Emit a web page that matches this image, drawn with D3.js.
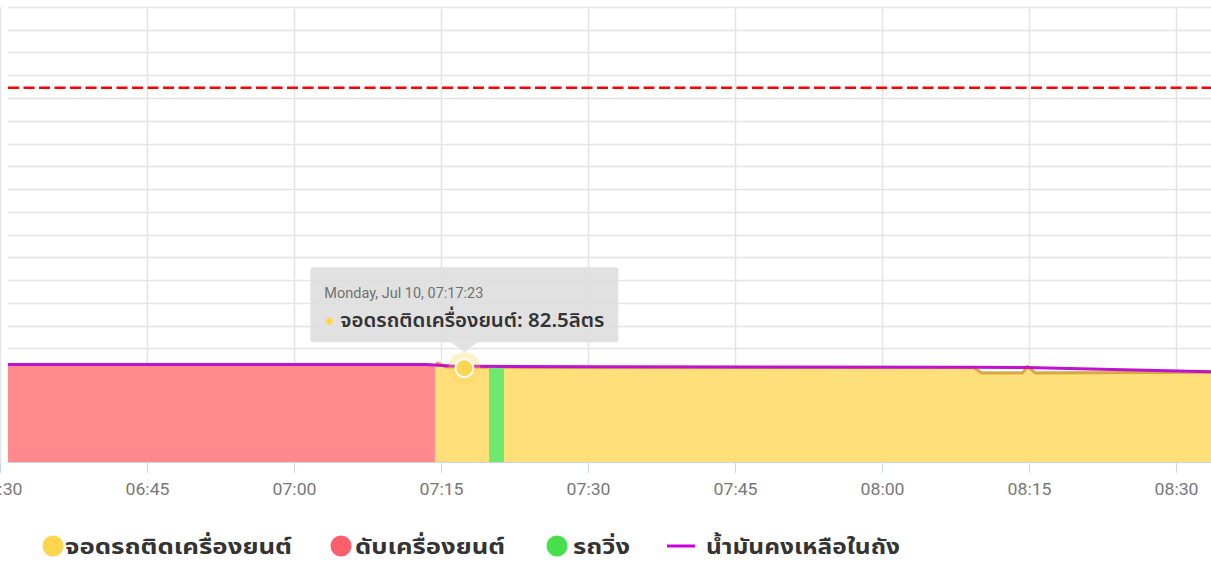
<!DOCTYPE html>
<html>
<head>
<meta charset="utf-8">
<script src="https://cdn.jsdelivr.net/npm/d3@7"></script>
<style>
	body { margin: 0; background: #fff; overflow: hidden; }
	svg { display: block; }
</style>
</head>
<body>
<div id="chart"></div>
<script>
const day = '2023-07-10';

// Data (litres)
const fuelTimes = ['06:30:49', '07:13:30', '07:16:00', '07:30:00', '08:09:00', '08:14:40', '08:33:34'];
const fuelValues = [85.8, 85.8, 84.3, 83.7, 83.2, 83.0, 79.4];

const offTimes = ['06:30:49', '07:14:23'];
const offValues = [84.6, 84.6];

const idleTimes = ['07:14:23', '07:14:40', '07:15:30', '07:19:54', '07:19:55', '07:21:26', '08:09:20', '08:10:10', '08:14:20', '08:14:50', '08:15:40', '08:33:34'];
const idleValues = [84.6, 87.0, 83.6, 83.4, null, 83.3, 83.0, 78.2, 78.2, 84.0, 78.2, 78.8];

const runTimes = ['07:19:54', '07:21:26'];
const runValues = [83.4, 83.3];

const tankLimit = 329;
const tickLabels = ['06:30', '06:45', '07:00', '07:15', '07:30', '07:45', '08:00', '08:15', '08:30'];
const legendNames = ['จอดรถติดเครื่องยนต์', 'ดับเครื่องยนต์', 'รถวิ่ง', 'น้ำมันคงเหลือในถัง'];
const legendColors = ['#ffd54f', '#ff5f6b', '#45e04a', '#cc00dd'];

const tooltipTime = '07:17:23';
const tooltipValue = 82.5;
const tooltipDate = 'Monday, Jul 10, 07:17:23';
const tooltipName = 'จอดรถติดเครื่องยนต์';

const parse = d3.timeParse('%Y-%m-%d %H:%M:%S');
const t = s => parse(`${day} ${s.length === 5 ? s + ':00' : s}`);
const zip = (ts, vs) => ts.map((s, i) => ({ t: t(s), v: vs[i] }));

const W = 1211, H = 562;
const thai = '"Noto Sans Thai", "Noto Sans", "DejaVu Sans", sans-serif';
const tickFont = 'Roboto, "Noto Sans", sans-serif';

const svg = d3.select('#chart').append('svg').attr('width', W).attr('height', H);

const x = d3.scaleTime().domain([t('06:30:49'), t('08:33:34')]).range([8, 1211]);
const y = d3.scaleLinear().domain([0, 400]).range([462, 7]);

// Grid
svg.append('g').selectAll('line')
	.data(d3.range(20, 401, 20))
	.enter().append('line')
	.attr('x1', 8).attr('x2', W)
	.attr('y1', d => Math.round(y(d)) + 0.5).attr('y2', d => Math.round(y(d)) + 0.5)
	.attr('stroke', '#e4e4e4').attr('stroke-width', 1.5);

svg.append('g').selectAll('line')
	.data(tickLabels.map(t))
	.enter().append('line')
	.attr('x1', d => Math.round(x(d)) + 0.5).attr('x2', d => Math.round(x(d)) + 0.5)
	.attr('y1', y(400)).attr('y2', y(0))
	.attr('stroke', '#e4e4e4').attr('stroke-width', 1.5);

// Areas
const area = d3.area()
	.defined(d => d.v !== null)
	.x(d => x(d.t))
	.y0(y(0))
	.y1(d => y(d.v));
const line = d3.line()
	.defined(d => d.v !== null)
	.x(d => x(d.t))
	.y(d => y(d.v));

svg.append('path').datum(zip(offTimes, offValues))
	.attr('d', area).attr('fill', '#ff8a8e');
svg.append('path').datum(zip(idleTimes, idleValues))
	.attr('d', area).attr('fill', '#ffdf7a');
svg.append('path').datum(zip(idleTimes, idleValues))
	.attr('d', line).attr('fill', 'none').attr('stroke', '#d6aa40').attr('stroke-width', 3)
	.attr('stroke-linejoin', 'round');
svg.append('path').datum(zip(runTimes, runValues))
	.attr('d', area).attr('fill', '#6ee86e');

// Fuel remaining
svg.append('path').datum(zip(fuelTimes, fuelValues))
	.attr('d', line).attr('fill', 'none').attr('stroke', '#c010d0').attr('stroke-width', 3);

// Tank limit
svg.append('line')
	.attr('x1', 8).attr('x2', W)
	.attr('y1', y(tankLimit)).attr('y2', y(tankLimit))
	.attr('stroke', '#ff0000').attr('stroke-width', 2.5)
	.attr('stroke-dasharray', '11,4.5');

// X axis
const axis = svg.append('g')
	.attr('transform', `translate(0,${y(0)})`)
	.call(d3.axisBottom(x).tickValues(tickLabels.map(t)).tickFormat(d3.timeFormat('%H:%M')).tickSize(11).tickPadding(11).tickSizeOuter(0));
axis.select('.domain').attr('stroke', '#ccd6eb').attr('d', `M8,0.5H${W}`);
axis.selectAll('.tick line').attr('stroke', '#ccd6eb');
axis.selectAll('.tick text')
	.attr('fill', '#777')
	.style('font-family', tickFont)
	.style('font-size', '16px')
	.attr('textLength', 44).attr('lengthAdjust', 'spacingAndGlyphs');

// Hover marker + tooltip
const px = x(t(tooltipTime)), py = y(tooltipValue);
svg.append('circle').attr('cx', px).attr('cy', py).attr('r', 16)
	.attr('fill', '#ffd54f').attr('opacity', 0.3);
svg.append('circle').attr('cx', px).attr('cy', py).attr('r', 9)
	.attr('fill', '#ffd54f').attr('stroke', '#fff').attr('stroke-width', 2);

const tip = svg.append('g').attr('transform', `translate(${px - 154},${py - 101})`);
tip.append('rect').attr('width', 308).attr('height', 75).attr('rx', 3)
	.attr('fill', 'rgba(222,222,222,0.9)');
tip.append('path').attr('d', 'M141,75L154,85L167,75Z').attr('fill', 'rgba(222,222,222,0.9)');
tip.append('text').attr('x', 14).attr('y', 31)
	.attr('fill', '#707070')
	.style('font-family', tickFont).style('font-size', '14px')
	.attr('textLength', 159).attr('lengthAdjust', 'spacingAndGlyphs')
	.text(tooltipDate);
tip.append('circle').attr('cx', 19).attr('cy', 54).attr('r', 3.5).attr('fill', '#ffd54f');
tip.append('text').attr('x', 30).attr('y', 60)
	.attr('fill', '#333')
	.style('font-family', thai).style('font-size', '20px').style('font-weight', '600')
	.attr('textLength', 264).attr('lengthAdjust', 'spacingAndGlyphs')
	.text(`${tooltipName}: ${tooltipValue}ลิตร`);

// Legend
const legendX = [53, 341, 557, 681];
const legendTextX = [12, 14, 16, 25];
const legendTextW = [227, 150, 57, 194];
const legend = svg.append('g');
legendNames.forEach((name, i) => {
	const g = legend.append('g').attr('transform', `translate(${legendX[i]},546)`);
	if (i < 3) g.append('circle').attr('r', 10.5).attr('fill', legendColors[i]);
	else g.append('line').attr('x1', -14).attr('x2', 14).attr('stroke', legendColors[i]).attr('stroke-width', 3);
	g.append('text').attr('x', legendTextX[i]).attr('y', 8)
		.attr('fill', '#333')
		.style('font-family', thai).style('font-size', '21px').style('font-weight', '700')
		.attr('textLength', legendTextW[i]).attr('lengthAdjust', 'spacingAndGlyphs')
		.text(name);
});
</script>
</body>
</html>
